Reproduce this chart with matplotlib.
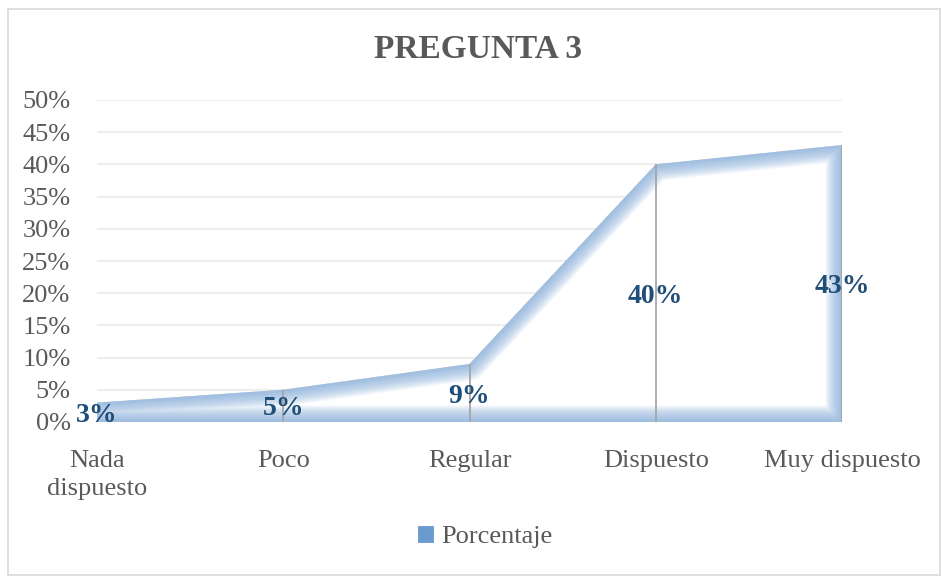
import matplotlib.pyplot as plt
from matplotlib.patches import Polygon, Patch, Rectangle
import numpy as np

# chart data
categories = ["Nada\ndispuesto", "Poco", "Regular", "Dispuesto", "Muy dispuesto"]
porcentaje = [0.03, 0.05, 0.09, 0.40, 0.43]
labels = ["3%", "5%", "9%", "40%", "43%"]
y_ticks = [0.0, 0.05, 0.10, 0.15, 0.20, 0.25, 0.30, 0.35, 0.40, 0.45, 0.50]

plt.rcParams['font.family'] = ['Liberation Serif', 'DejaVu Serif']

fig = plt.figure(figsize=(9.42, 5.76), dpi=100)
ax = fig.add_axes([97 / 942, 1 - 422 / 576, (842 - 97) / 942, (422 - 100) / 576])

# chart border
fig.patches.append(Rectangle((8 / 942, 0.002), 932 / 942, 1 - 10 / 576,
                             transform=fig.transFigure, fill=False,
                             edgecolor='#D9D9D9', linewidth=1.2))

x = np.arange(len(categories))

ax.set_xlim(0, len(categories) - 1)
ax.set_ylim(0, 0.5)

# gridlines
for t in y_ticks[1:]:
    ax.axhline(t, color='#EEEEEE', linewidth=1.6, zorder=0)

# area with soft inner edge
xs = list(x) + [x[-1], x[0]]
ys = list(porcentaje) + [0, 0]
area = Polygon(np.column_stack([xs, ys]), closed=True, facecolor='white',
               edgecolor='none', zorder=1)
ax.add_patch(area)

outline_x = xs + [xs[0]]
outline_y = ys + [ys[0]]
for lw in np.linspace(1.0, 24, 22):
    line, = ax.plot(outline_x, outline_y, color='#85AEDB', alpha=0.06,
                    linewidth=lw, solid_joinstyle='round', zorder=2)
    line.set_clip_path(area)

# drop lines
ax.vlines(x[1:], 0, porcentaje[1:], color='#A6A6A6', linewidth=1.3, zorder=3)

# data labels
for xi, v, lab in zip(x, porcentaje, labels):
    ax.text(xi, v / 2, lab, ha='center', va='center_baseline', fontsize=20,
            fontweight='bold', color='#1F4E79', zorder=4)

ax.set_yticks(y_ticks)
ax.set_yticklabels([f"{int(round(t * 100))}%" for t in y_ticks])
ax.set_xticks(x)
ax.set_xticklabels(categories, linespacing=1.35)
ax.tick_params(axis='y', length=0, pad=19, labelsize=19, labelcolor='#595959')
ax.tick_params(axis='x', length=0, pad=20, labelsize=19, labelcolor='#595959')
for s in ax.spines.values():
    s.set_visible(False)
ax.set_facecolor('none')

fig.text(478 / 942, 1 - 50 / 576, "PREGUNTA 3", ha='center', va='center',
         fontsize=24, fontweight='bold', color='#595959')

handle = Patch(facecolor='#6A9BD0', edgecolor='#5B8EC6', linewidth=0.5)
fig.legend([handle], ["Porcentaje"], loc='center',
           bbox_to_anchor=(485 / 942, 1 - 537 / 576), frameon=False,
           fontsize=19, labelcolor='#595959', handlelength=0.6,
           handleheight=0.6, handletextpad=0.3)

fig.savefig('out.png', dpi=100)
